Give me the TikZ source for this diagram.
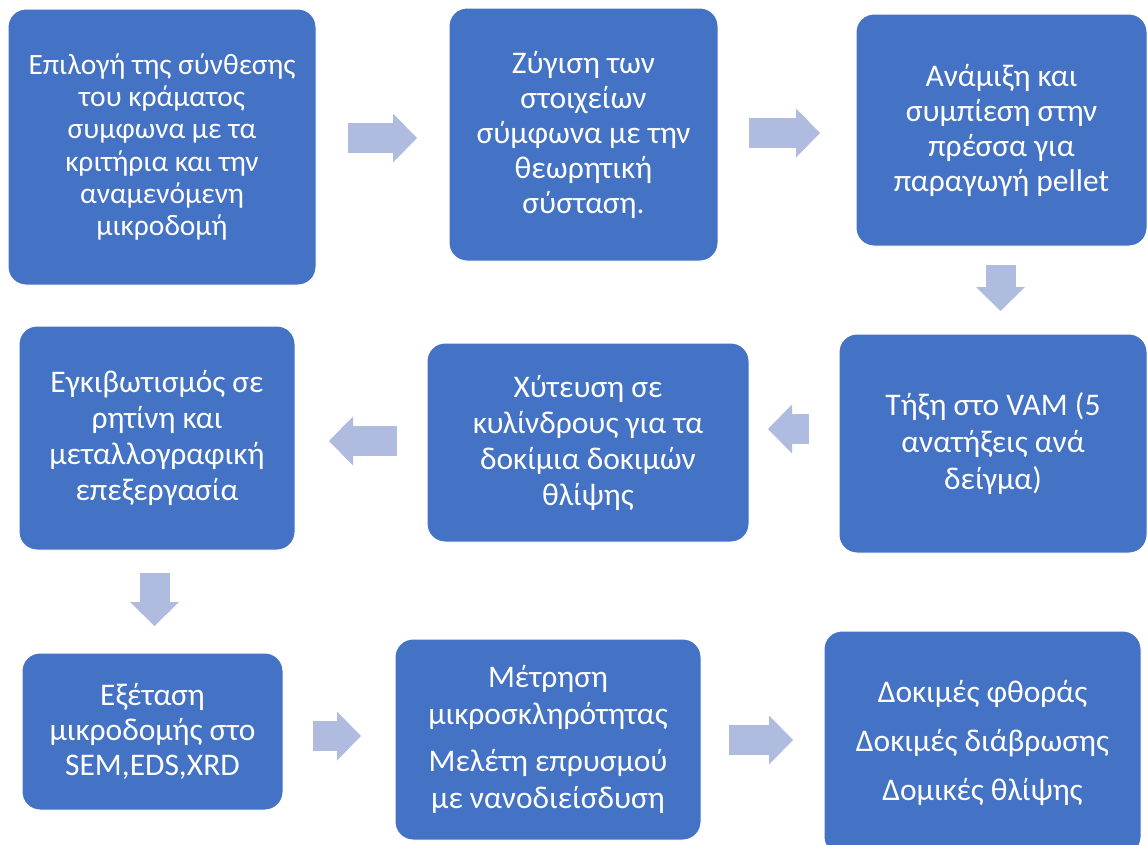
\documentclass[tikz,border=0pt]{standalone}
\usepackage{fontspec}
\setmainfont{Carlito}
\usetikzlibrary{arrows.meta}
\definecolor{boxblue}{HTML}{4472C4}
\definecolor{arrowblue}{HTML}{B0BCDF}
\tikzset{
  stepbox/.style={draw=white, line width=1pt, fill=boxblue, rounded corners=18pt,
    text=white, align=center, inner sep=0pt,
    font=\fontsize{31.5}{35}\selectfont},
  flowarrow/.style={draw=arrowblue, line width=30pt,
    -{Triangle[width=49pt,length=24pt,line width=0pt]}},
}
\begin{document}
\begin{tikzpicture}[x=1pt,y=-1pt]
\useasboundingbox (0,0) rectangle (1148,844);
% boxes
\node[stepbox, minimum width=308pt, minimum height=276pt,
      font=\fontsize{29.5}{32.3}\selectfont] (b1) at (162,147)
  {Επιλογή της σύνθεσης\\του κράματος\\συμφωνα με τα\\κριτήρια και την\\αναμενόμενη\\μικροδομή};
\node[stepbox, minimum width=269pt, minimum height=253pt] (b2) at (583.5,134.5)
  {Ζύγιση των\\στοιχείων\\σύμφωνα με την\\θεωρητική\\σύσταση.};
\node[stepbox, minimum width=291pt, minimum height=232pt] (b3) at (1001.5,130)
  {Ανάμιξη και\\συμπίεση στην\\πρέσσα για\\παραγωγή pellet};
\node[stepbox, minimum width=308pt, minimum height=219pt,
      font=\fontsize{31.5}{37}\selectfont] (b4) at (993,443.5)
  {Τήξη στο VAM (5\\ανατήξεις ανά\\δείγμα)};
\node[stepbox, minimum width=322pt, minimum height=199pt,
      font=\fontsize{31.5}{36}\selectfont] (b5) at (588,442.5)
  {Χύτευση σε\\κυλίνδρους για τα\\δοκίμια δοκιμών\\θλίψης};
\node[stepbox, minimum width=276pt, minimum height=224pt,
      font=\fontsize{31.5}{36}\selectfont] (b6) at (157,438)
  {Εγκιβωτισμός σε\\ρητίνη και\\μεταλλογραφική\\επεξεργασία};
\node[stepbox, minimum width=261pt, minimum height=157pt] (b7) at (152.5,731.5)
  {Εξέταση\\μικροδομής στο\\SEM,EDS,XRD};
\node[stepbox, minimum width=306pt, minimum height=201pt,
      font=\fontsize{31.5}{36.5}\selectfont] (b8) at (548,739.5)
  {Μέτρηση\\μικροσκληρότητας\\[11pt]Μελέτη επρυσμού\\με νανοδιείσδυση};
\node[stepbox, minimum width=317pt, minimum height=224pt] (b9) at (982.5,743)
  {Δοκιμές φθοράς\\[14pt]Δοκιμές διάβρωσης\\[14pt]Δομικές θλίψης};
% arrow end points
\coordinate (a1s) at (348,138);   \coordinate (a1e) at (417,138);
\coordinate (a2s) at (749,133);   \coordinate (a2e) at (820,133);
\coordinate (a3s) at (1000.5,265);\coordinate (a3e) at (1000.5,311);
\coordinate (a4s) at (809,429);   \coordinate (a4e) at (768,429);
\coordinate (a5s) at (397,441);   \coordinate (a5e) at (329,441);
\coordinate (a6s) at (154.5,573); \coordinate (a6e) at (154.5,626);
\coordinate (a7s) at (313,736);   \coordinate (a7e) at (361,736);
\coordinate (a8s) at (729,740);   \coordinate (a8e) at (793,740);
% arrows
\draw[flowarrow] (a1s) -- (a1e);
\draw[flowarrow] (a2s) -- (a2e);
\draw[flowarrow] (a3s) -- (a3e);
\draw[flowarrow] (a4s) -- (a4e);
\draw[flowarrow] (a5s) -- (a5e);
\draw[flowarrow] (a6s) -- (a6e);
\draw[flowarrow] (a7s) -- (a7e);
\draw[flowarrow] (a8s) -- (a8e);
\end{tikzpicture}
\end{document}
